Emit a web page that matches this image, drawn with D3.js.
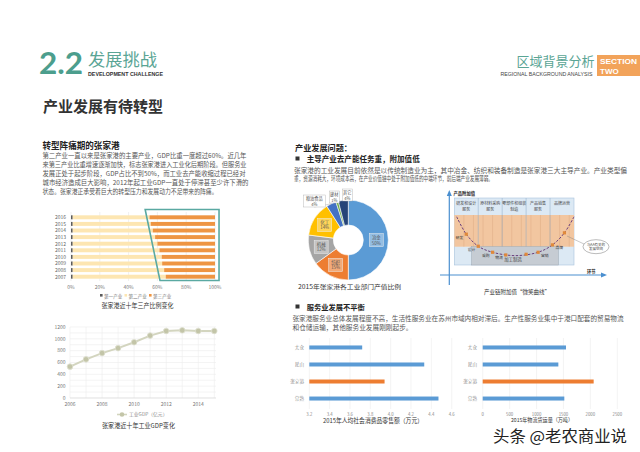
<!DOCTYPE html>
<html><head><meta charset="utf-8">
<script src="https://cdn.jsdelivr.net/npm/d3@7"></script>
<style>body{margin:0;background:#fff}svg{display:block}</style>
</head><body>
<script>
// ---------- DATA ----------
const years = ["2007","2008","2009","2010","2011","2012","2013","2014","2015","2016"];
const primaryShare = [1.2,1.2,1.2,1.2,1.2,1.2,1.2,1.2,1.2,1.2];
const secondaryShare = [64.6,63.5,62.1,61.8,60.2,58.8,57.2,55.6,54.2,53.3];
const tertiaryShare = [34.2,35.3,36.7,37.0,38.6,40.0,41.6,43.2,44.6,45.5];
const shareTicks = [0,20,40,60,80,100];
const shareLegend = ["第一产业","第二产业","第三产业"];

const gdpYears = [2006,2007,2008,2009,2010,2011,2012,2013,2014,2015];
const gdpValues = [530,653,759,843,943,1055,1133,1144,1133,1133];
const gdpYTicks = [0,200,400,600,800,1000,1200];
const gdpXTicks = [2006,2008,2010,2012,2014];

const sectorNames = ["冶金","纺织","机械","化工","粮油食品","建材","其它"];
const sectorShares = [50,15,12,14,4,1,4];

const cities = ["太仓","昆山","张家港","常熟"];
const retailPerCapita = [3.72,4.33,3.94,4.47];
const retailTicks = [3.2,3.4,3.6,3.8,4.0,4.2,4.4,4.6];
const freightVolume = [1547,1405,2061,1516];
const freightTicks = [0,500,1000,1500,2000,2500];

const smileHeaders = [["研发和设计","服务"],["原材料采购","服务"],["零部件和组装","制造"],["产品销售","服务"],["品牌运营"]];
const smileCurve = [[0.2,7.2],[1,4.6],[2,2.8],[3.2,1.9],[5.1,1.4],[7,1.9],[8.2,3.0],[9.2,4.8],[10,7.2]];
const smileMarks = [[1,4.6,"研发"],[2,2.8,"设计"],[3.2,1.9,"采购"],[4.3,1.5,"物流"],[6,1.6,""],[7,1.9,"营销"],[8.2,3.0,"品牌"],[9.2,4.8,""]];

// ---------- SETUP ----------
const F = "'Noto Sans CJK SC','Noto Sans',sans-serif";
const svg = d3.select("body").append("svg").attr("width",640).attr("height",452);
function T(x,y,s,o={}){
  const t = svg.append("text").attr("x",x).attr("y",y).text(s)
    .attr("font-family",o.ff||F).attr("font-size",o.fs||6).attr("fill",o.c||"#555");
  if(o.w) t.attr("font-weight",o.w);
  if(o.a) t.attr("text-anchor",o.a);
  if(o.tl) t.attr("textLength",o.tl).attr("lengthAdjust","spacingAndGlyphs");
  return t;
}
const TEAL = "#4c9e8d";

// ---------- HEADER ----------
T(39,74,"2.2",{fs:31,c:TEAL,w:700,ff:"Lato, 'DejaVu Sans', sans-serif",tl:44});
T(88,66,"发展挑战",{fs:16.5,c:"#5aa595",tl:69});
T(88,75.5,"DEVELOPMENT CHALLENGE",{fs:5.2,c:"#333",w:700,ff:"'Liberation Sans',sans-serif",tl:75});
T(516.5,66,"区域背景分析",{fs:13,c:"#5aa595",tl:78});
T(500.5,75.5,"REGIONAL BACKGROUND ANALYSIS",{fs:4.8,c:"#444",ff:"'Liberation Sans',sans-serif",tl:92});
svg.append("rect").attr("x",597).attr("y",55).attr("width",43).attr("height",21).attr("fill","#f2a35a");
T(600,63.5,"SECTION",{fs:8,c:"#fff",w:700,ff:"'Liberation Sans',sans-serif",tl:37});
T(600,74,"TWO",{fs:8,c:"#fff",w:700,ff:"'Liberation Sans',sans-serif"});
T(43,112,"产业发展有待转型",{fs:15,c:"#333",w:700,tl:120});

// ---------- LEFT TEXT ----------
T(42.5,148.5,"转型阵痛期的张家港",{fs:8.6,c:"#222",w:700,tl:77});
const pL = [
 ["第二产业一直以来是张家港的主要产业，GDP比重一度超过60%。近几年",204],
 ["来第三产业比重增速逐渐加快，标志张家港进入工业化后期阶段。但服务业",204],
 ["发展正处于起步阶段，GDP占比不到50%，而工业去产能收缩过程已经对",203],
 ["城市经济造成巨大影响，2012年起工业GDP一直处于停滞甚至少许下滑的",206],
 ["状态。张家港正承受着巨大的转型压力和发展动力不足带来的阵痛。",175]];
pL.forEach((l,i)=>T(42.5,158+i*9.1,l[0],{fs:6.6,c:"#555",tl:l[1]}));

// ---------- STACKED BAR ----------
const xs = d3.scaleLinear().domain([0,100]).range([71,215]);
const ys = d3.scaleBand().domain(years.slice().reverse()).range([214,280]).paddingInner(0.4).paddingOuter(0.2);
const g1 = svg.append("g");
g1.selectAll("line.g").data(shareTicks).join("line")
  .attr("x1",d=>xs(d)).attr("x2",d=>xs(d)).attr("y1",212).attr("y2",281)
  .attr("stroke","#e4e4e4").attr("stroke-width",0.6);
const stackRows = years.map((y,i)=>({year:y,a:primaryShare[i],b:secondaryShare[i],c:tertiaryShare[i]}));
const stacked = d3.stack().keys(["a","b","c"])(stackRows);
const sCols = ["#5b5b5b","#fde6b2","#ee9543"];
stacked.forEach((s,k)=>{
  g1.selectAll("rect.s"+k).data(s).join("rect")
    .attr("x",d=>xs(d[0])).attr("width",d=>xs(d[1])-xs(d[0]))
    .attr("y",d=>ys(d.data.year)).attr("height",ys.bandwidth()).attr("fill",sCols[k]);
});
g1.selectAll("text.y").data(years).join("text")
  .attr("x",66).attr("y",d=>ys(d)+ys.bandwidth()/2+1.8).attr("text-anchor","end")
  .attr("font-family",F).attr("font-size",5).attr("fill","#666").text(d=>d);
g1.selectAll("text.x").data(shareTicks).join("text")
  .attr("x",d=>xs(d)).attr("y",288.5).attr("text-anchor","middle")
  .attr("font-family",F).attr("font-size",5).attr("fill","#777").text(d=>d+"%");
// highlight outline
const outline = [[51.5,209.5],[102.8,209.5],[102.8,280.5],[61.8,280.5]];
g1.append("path").attr("d",d3.line().x(d=>xs(d[0])).y(d=>d[1])(outline)+"Z")
  .attr("fill","none").attr("stroke","#5aa9a2").attr("stroke-width",1.6);
shareLegend.forEach((n,i)=>{
  const lx = 100+i*24.5;
  g1.append("rect").attr("x",lx).attr("y",294).attr("width",2.6).attr("height",2.6).attr("fill",sCols[i]);
  T(lx+4,297.5,n,{fs:4.6,c:"#777"});
});
T(137.5,307.5,"张家港近十年三产比例变化",{fs:6.4,c:"#333",a:"middle",tl:72});

// ---------- LINE CHART ----------
const xl = d3.scaleLinear().domain([2006,2015]).range([70,214.3]);
const yl = d3.scaleLinear().domain([0,1200]).range([398,327]);
const g2 = svg.append("g");
g2.selectAll("line.h").data(d3.range(0,1201,100)).join("line")
  .attr("x1",70).attr("x2",216).attr("y1",d=>yl(d)).attr("y2",d=>yl(d))
  .attr("stroke","#ececec").attr("stroke-width",0.6);
g2.selectAll("line.v").data(gdpYears).join("line")
  .attr("x1",d=>xl(d)).attr("x2",d=>xl(d)).attr("y1",327).attr("y2",398)
  .attr("stroke","#ececec").attr("stroke-width",0.6);
g2.append("line").attr("x1",70).attr("x2",216).attr("y1",398).attr("y2",398).attr("stroke","#d8d8d8").attr("stroke-width",0.6);
g2.append("path").datum(gdpValues.map((v,i)=>[gdpYears[i],v]))
  .attr("d",d3.line().x(d=>xl(d[0])).y(d=>yl(d[1])))
  .attr("fill","none").attr("stroke","#d3d5bf").attr("stroke-width",2);
g2.selectAll("circle").data(gdpValues).join("circle")
  .attr("cx",(d,i)=>xl(gdpYears[i])).attr("cy",d=>yl(d)).attr("r",2.8)
  .attr("fill","#c3c5a8").attr("stroke","#e0e1d2").attr("stroke-width",0.8);
g2.selectAll("text.y").data(gdpYTicks).join("text")
  .attr("x",65.5).attr("y",d=>yl(d)+1.7).attr("text-anchor","end")
  .attr("font-family",F).attr("font-size",5).attr("fill","#777").text(d=>d);
g2.selectAll("text.x").data(gdpXTicks).join("text")
  .attr("x",d=>xl(d)).attr("y",405.5).attr("text-anchor","middle")
  .attr("font-family",F).attr("font-size",5).attr("fill","#777").text(d=>d);
g2.append("line").attr("x1",117).attr("x2",127).attr("y1",414.5).attr("y2",414.5).attr("stroke","#d3d5bf").attr("stroke-width",1.6);
g2.append("circle").attr("cx",122).attr("cy",414.5).attr("r",2.3).attr("fill","#c3c5a8");
T(129,416.3,"工业GDP（亿元）",{fs:4.8,c:"#888"});
T(138.5,428,"张家港近十年工业GDP变化",{fs:6.6,c:"#333",a:"middle",tl:73});

// ---------- RIGHT TEXT ----------
T(295,151,"产业发展问题：",{fs:8.1,c:"#222",w:700,tl:57});
svg.append("rect").attr("x",295.5).attr("y",156.5).attr("width",4).attr("height",4).attr("fill","#333");
T(306.7,162.3,"主导产业去产能任务重，附加值低",{fs:7.5,c:"#222",w:700,tl:113});
T(294,172.5,"张家港的工业发展目前依然是以传统制造业为主，其中冶金、纺织和装备制造是张家港三大主导产业。产业类型偏",{fs:6.4,c:"#555",tl:333});
T(294,181,"重，资源消耗大，环境成本高，在产业价值链中处于附加值低的中端环节，前后端产业发展薄弱。",{fs:6.4,c:"#555",tl:199});

// ---------- DONUT ----------
const cx=348.3, cy=240;
const pie = d3.pie().sort(null)(sectorShares);
const arc = d3.arc().innerRadius(15).outerRadius(40);
const dCols = ["#5b9bd5","#ed7d31","#a5a5a5","#ffc000","#4472c4","#70ad47","#264478"];
const g3 = svg.append("g").attr("transform",`translate(${cx},${cy})`);
g3.selectAll("path").data(pie).join("path").attr("d",arc)
  .attr("fill",(d,i)=>dCols[i]).attr("stroke","#fff").attr("stroke-width",0.6);
const lArc = d3.arc().innerRadius(28).outerRadius(28);
pie.slice(0,4).forEach((d,i)=>{
  let [px,py] = lArc.centroid(d);
  const b = g3.append("g").attr("transform",`translate(${px},${py})`);
  b.append("rect").attr("x",-7).attr("y",-6.5).attr("width",14).attr("height",13)
    .attr("fill","#fff").attr("fill-opacity",0.35).attr("stroke","#eee").attr("stroke-width",0.5);
  b.append("text").attr("y",-1).attr("text-anchor","middle").attr("font-family",F).attr("font-size",4.4).attr("fill","#555").text(sectorNames[i]);
  b.append("text").attr("y",4.5).attr("text-anchor","middle").attr("font-family",F).attr("font-size",4.4).attr("fill","#555").text(sectorShares[i]+"%");
});
const smallPos = [[-34,-39,22],[-14,-43,10],[-1,-45,10]];
pie.slice(4).forEach((d,j)=>{
  const i=j+4, [bx,by,bw]=smallPos[j];
  const oc = d3.arc().innerRadius(40).outerRadius(40).centroid(d);
  g3.append("line").attr("x1",bx).attr("y1",by+6).attr("x2",oc[0]).attr("y2",oc[1]).attr("stroke","#999").attr("stroke-width",0.4);
  g3.append("rect").attr("x",bx-bw/2).attr("y",by-6).attr("width",bw).attr("height",12)
    .attr("fill","#fff").attr("stroke","#aaa").attr("stroke-width",0.4);
  g3.append("text").attr("x",bx).attr("y",by-1).attr("text-anchor","middle").attr("font-family",F).attr("font-size",4.2).attr("fill","#555").text(sectorNames[i]);
  g3.append("text").attr("x",bx).attr("y",by+4.5).attr("text-anchor","middle").attr("font-family",F).attr("font-size",4.2).attr("fill","#555").text(sectorShares[i]+"%");
});
T(298,289,"2015年张家港各工业部门产值比例",{fs:5.6,c:"#333",tl:103});

// ---------- SMILE CURVE ----------
const sx = d3.scaleLinear().domain([0,10]).range([454.3,574]);
const sy = d3.scaleLinear().domain([0,10]).range([265,198]);
const g4 = svg.append("g");
g4.append("rect").attr("x",sx(0)).attr("y",sy(10)).attr("width",sx(10)-sx(0)).attr("height",sy(0)-sy(10))
  .attr("fill","#dce9f4").attr("stroke","#a8c3dc").attr("stroke-width",0.6);
g4.append("rect").attr("x",sx(0)).attr("y",215).attr("width",sx(10)-sx(0)).attr("height",31.7)
  .attr("fill","#f2c6a0");
g4.selectAll("line.st").data(d3.range(0.8,10,0.8)).join("line")
  .attr("x1",d=>sx(d)).attr("x2",d=>sx(d)).attr("y1",215).attr("y2",246.7)
  .attr("stroke","#d9a37c").attr("stroke-width",0.4);
g4.selectAll("line.col").data([2,4,6,8]).join("line")
  .attr("x1",d=>sx(d)).attr("x2",d=>sx(d)).attr("y1",sy(10)).attr("y2",246.7)
  .attr("stroke","#8aa9c7").attr("stroke-width",0.5);
smileHeaders.forEach((h,i)=>{
  h.forEach((s,k)=>g4.append("text").attr("x",sx(i*2+1)).attr("y",205+k*5.5).attr("text-anchor","middle")
    .attr("font-family",F).attr("font-size",4).attr("fill","#444").text(s));
});
g4.append("rect").attr("x",471.7).attr("y",246.7).attr("width",86.6).attr("height",18.3)
  .attr("fill","#c6ccd3").attr("stroke","#9aa4ae").attr("stroke-width",0.5);
g4.append("text").attr("x",513).attr("y",261).attr("text-anchor","middle").attr("font-family",F).attr("font-size",4.4).attr("fill","#444").text("加工制造");
g4.append("path").attr("d",d3.line().curve(d3.curveCatmullRom).x(d=>sx(d[0])).y(d=>sy(d[1]))(smileCurve))
  .attr("fill","none").attr("stroke","#6b3f7d").attr("stroke-width",1).attr("stroke-dasharray","2.5,1.5");
smileMarks.forEach(m=>{
  g4.append("rect").attr("x",sx(m[0])-1.6).attr("y",sy(m[1])-1.6).attr("width",3.2).attr("height",3.2).attr("fill","#e0893a");
  if(m[2]) g4.append("text").attr("x",sx(m[0])+(m[0]<5?-3:3)).attr("y",sy(m[1])+4.5)
    .attr("text-anchor",m[0]<5?"end":"start").attr("font-family",F).attr("font-size",3.8).attr("fill","#333").text(m[2]);
});
g4.append("line").attr("x1",567).attr("y1",236).attr("x2",584).attr("y2",244).attr("stroke","#777").attr("stroke-width",0.4);
g4.append("ellipse").attr("cx",596).attr("cy",246.7).attr("rx",13).attr("ry",7).attr("fill","#fff").attr("stroke","#777").attr("stroke-width",0.5);
g4.append("text").attr("x",596).attr("y",245.5).attr("text-anchor","middle").attr("font-family",F).attr("font-size",3.5).attr("fill","#444").text("与AA有关的");
g4.append("text").attr("x",596).attr("y",250).attr("text-anchor","middle").attr("font-family",F).attr("font-size",3.5).attr("fill","#444").text("发展空间");
// axes
const AX="#4a8fd0";
g4.append("line").attr("x1",449.3).attr("x2",449.3).attr("y1",285).attr("y2",194).attr("stroke",AX).attr("stroke-width",1.2);
g4.append("path").attr("d","M446.8,196 L449.3,190 L451.8,196 Z").attr("fill",AX);
g4.append("line").attr("x1",440).attr("x2",603).attr("y1",275).attr("y2",275).attr("stroke",AX).attr("stroke-width",1.2);
g4.append("path").attr("d","M601,272.5 L607,275 L601,277.5 Z").attr("fill",AX);
T(453.5,194.5,"产品附加值",{fs:4.3,c:"#222",w:700});
T(587,273,"环节",{fs:4.3,c:"#222",w:700});
T(517,293.5,"产业链附加值“微笑曲线”",{fs:6,c:"#333",a:"middle",tl:66});

// ---------- SERVICE TEXT ----------
svg.append("rect").attr("x",295.5).attr("y",304.5).attr("width",4).attr("height",4).attr("fill","#333");
T(306.7,310,"服务业发展不平衡",{fs:7.3,c:"#222",w:700,tl:58});
T(292.5,321,"张家港服务业总体发展程度不高，生活性服务业在苏州市域内相对滞后。生产性服务业集中于港口配套的贸易物流",{fs:6.4,c:"#555",tl:331});
T(292.5,329.5,"和仓储运输，其他服务业发展刚刚起步。",{fs:6.4,c:"#555",tl:120});

// ---------- BAR CHARTS ----------
function barChart(x0,x1,vals,ticks,labX,fmt){
  const x = d3.scaleLinear().domain([ticks[0],ticks[ticks.length-1]]).range([x0,x1]);
  const y = d3.scaleBand().domain(cities).range([339,407]).paddingInner(0.765).paddingOuter(0.38);
  const g = svg.append("g");
  g.selectAll("line.g").data(ticks).join("line")
    .attr("x1",d=>x(d)).attr("x2",d=>x(d)).attr("y1",338).attr("y2",409)
    .attr("stroke","#ececec").attr("stroke-width",0.6);
  g.selectAll("rect").data(vals).join("rect")
    .attr("x",x0).attr("y",(d,i)=>y(cities[i])).attr("width",d=>x(d)-x0).attr("height",y.bandwidth())
    .attr("fill",(d,i)=>cities[i]==="张家港"?"#ed7d31":"#5b9bd5");
  g.selectAll("text.c").data(cities).join("text")
    .attr("x",labX).attr("y",d=>y(d)+y.bandwidth()/2+1.6).attr("text-anchor","end")
    .attr("font-family","'Noto Serif CJK SC','Noto Sans CJK SC',serif").attr("font-size",4.6).attr("fill","#777").text(d=>d);
  g.selectAll("text.t").data(ticks).join("text")
    .attr("x",d=>x(d)).attr("y",415.5).attr("text-anchor","middle")
    .attr("font-family",F).attr("font-size",4.3).attr("fill","#888").text(fmt);
}
barChart(309.3,451.7,retailPerCapita,retailTicks,304,d=>d.toFixed(1));
barChart(482.7,617.3,freightVolume,freightTicks,477,d=>d);
T(373,423,"2015年人均社会消费品零售额（万元）",{fs:6.4,c:"#333",a:"middle",tl:100});
T(542,421.5,"2015年物流货运量（万吨）",{fs:5.4,c:"#333",a:"middle",tl:62});

// ---------- WATERMARK ----------
T(493,442,"头条 @老农商业说",{fs:15.5,c:"#222",tl:134}).attr("stroke","#fff").attr("stroke-width",2.2).attr("paint-order","stroke");
</script>
</body></html>
